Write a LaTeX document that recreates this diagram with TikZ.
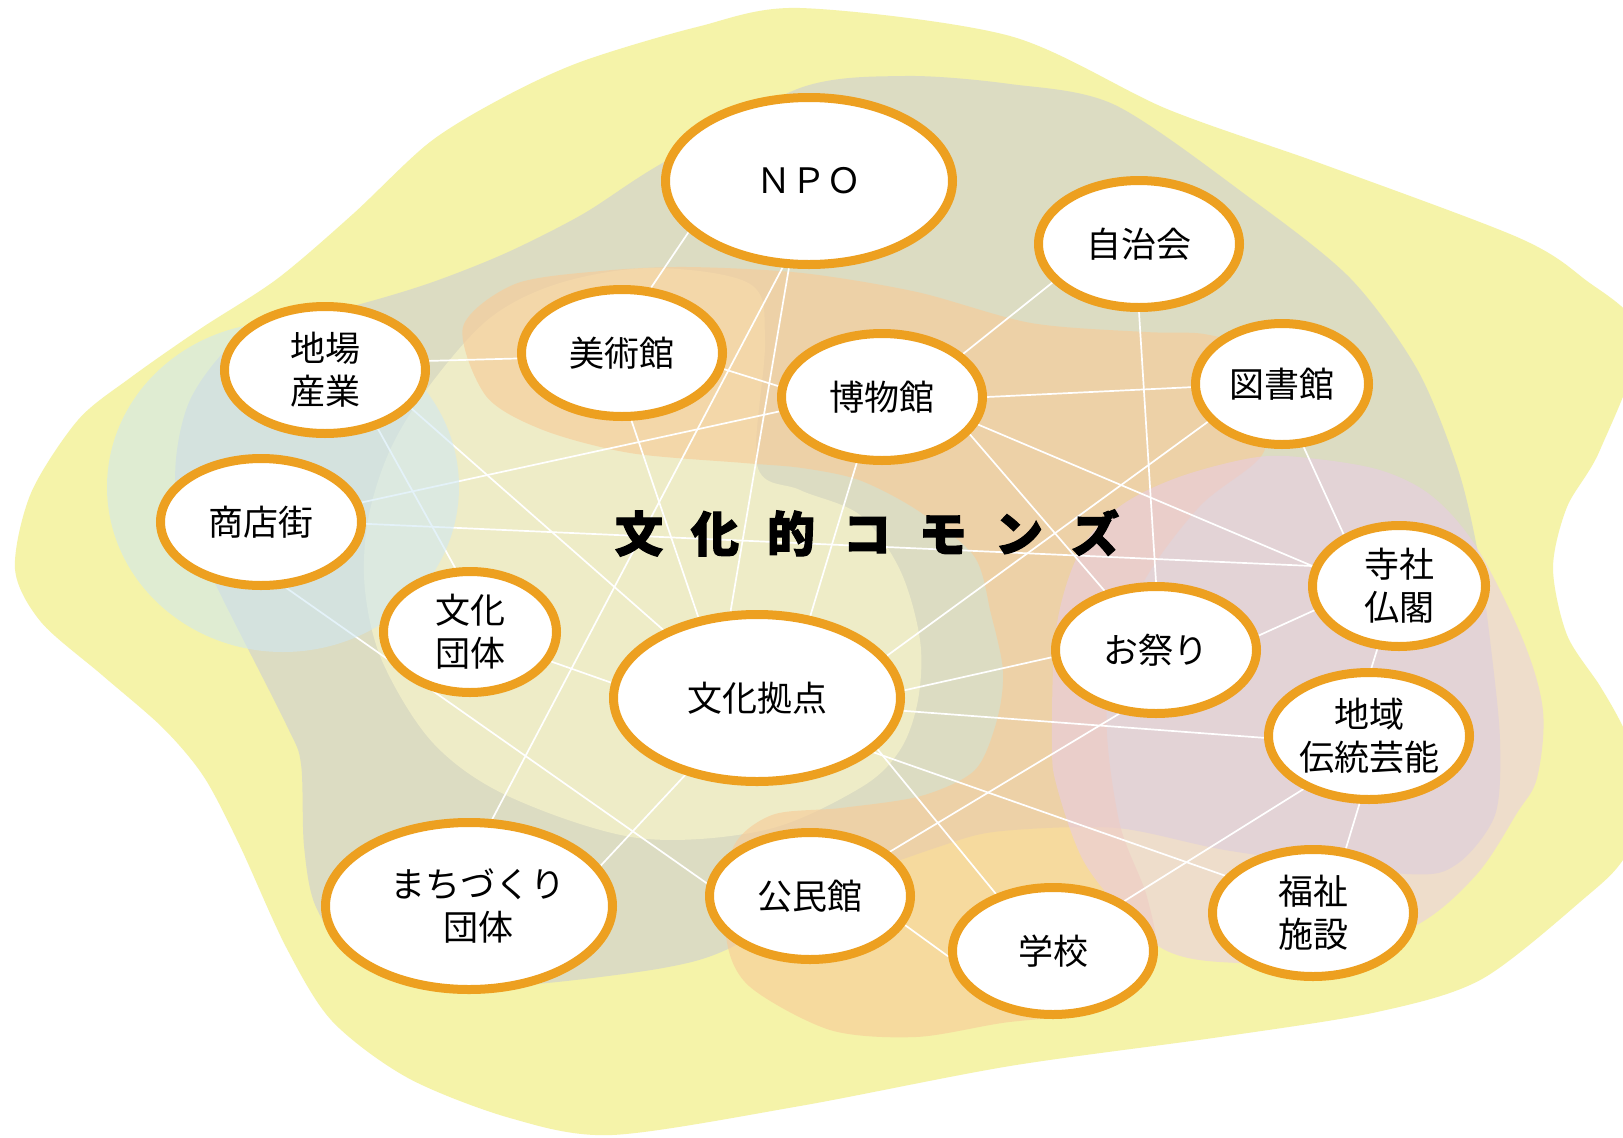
\documentclass[tikz,border=0pt]{standalone}
\usepackage{fontspec}
\newfontfamily\jpfont{Noto Sans CJK JP}
\newfontfamily\jptitle[FakeBold=2.5]{Noto Sans CJK JP}
\usetikzlibrary{shapes.geometric}
\pgfdeclarelayer{blobs}
\pgfdeclarelayer{links}
\pgfdeclarelayer{tint}
\pgfsetlayers{blobs,links,tint,main}
\definecolor{bgyellow}{RGB}{245,243,169}
\definecolor{blobgray}{RGB}{220,220,194}
\definecolor{blobpale}{RGB}{238,236,199}
\definecolor{blobcyan}{RGB}{206,232,245}
\definecolor{bloborange}{RGB}{247,204,153}
\definecolor{blobpink}{RGB}{233,204,230}
\definecolor{ringorange}{RGB}{237,160,32}
\tikzset{
  hub/.style={ellipse, draw=ringorange, line width=9pt, fill=white, inner sep=0pt,
    align=center, font=\jpfont\fontsize{35}{43}\selectfont},
  bighub/.style={hub, minimum width=287pt, minimum height=167pt},
  midhub/.style={hub, minimum width=201pt, minimum height=127pt},
  smlhub/.style={hub, minimum width=173pt, minimum height=121pt},
  link/.style={draw=white, line width=1.7pt},
  titletext/.style={font=\jptitle\bfseries\fontsize{48}{48}\selectfont, inner sep=0pt},
}
\begin{document}
\begin{tikzpicture}[x=1pt,y=-1pt]
\useasboundingbox (0,0) rectangle (1623,1138);

% ---------- nodes ----------
\node[bighub] (npo) at (809,181) {ＮＰＯ};
\node[midhub] (jichi) at (1139,244) {自治会};
\node[midhub] (bijutsu) at (622,353) {美術館};
\node[midhub] (jiba) at (325,370) {地場\\産業};
\node[midhub] (haku) at (882,397) {博物館};
\node[smlhub] (tosho) at (1282,384) {図書館};
\node[midhub] (shoten) at (261,522) {商店街};
\node[smlhub] (dantai) at (470,632) {文化\\団体};
\node[bighub] (kyoten) at (757,698) {文化拠点};
\node[midhub] (matsuri) at (1156,650) {お祭り};
\node[smlhub] (jisha) at (1399,586) {寺社\\仏閣};
\node[midhub] (dento) at (1369,736) {地域\\伝統芸能};
\node[bighub] (machi) at (469,906) {\hspace*{18pt}まちづくり\\\hspace*{18pt}団体};
\node[midhub] (kominkan) at (810,896) {公民館};
\node[midhub] (gakko) at (1053,951) {学校};
\node[midhub] (fukushi) at (1313,913) {福祉\\施設};

\node[titletext] (title) at (867,533)
  {文\hspace{28pt}化\hspace{28pt}的\hspace{28pt}コ\hspace{28pt}モ\hspace{28pt}ン\hspace{28pt}ズ};

% ---------- background blobs ----------
\begin{pgfonlayer}{blobs}
\begin{scope}
\clip (0,0) rectangle (1623,1138);
\fill[white] (0,0) rectangle (1623,1138);
\fill[bgyellow] plot[smooth cycle, tension=0.5] coordinates {
 (800,8) (1010,36) (1167,109) (1325,165) (1517,237) (1583,278) (1640,335)
 (1600,450) (1567,507) (1553,568) (1567,635) (1600,686) (1623,727) (1655,800)
 (1623,860) (1587,896) (1482,979) (1377,1012) (1220,1037) (1010,1066) (800,1106)
 (612,1135) (510,1118) (408,1078) (332,1021) (286,947) (240,846) (204,777)
 (163,728) (102,675) (41,622) (15,569) (31,493) (78,420) (130,378) (200,329)
 (277,279) (353,214) (430,142) (506,96) (583,61) (697,27)};
\fill[blobgray] plot[smooth cycle, tension=0.5] coordinates {
 (800,88) (905,76) (1010,84) (1115,105) (1250,198) (1350,278) (1417,369)
 (1457,466) (1477,548) (1490,640) (1500,740) (1495,815) (1457,864) (1407,874)
 (1231,851) (1117,828) (1002,831) (944,845) (830,888) (730,948) (663,968)
 (536,984) (459,984) (357,960) (316,907) (304,846) (301,764) (286,724)
 (214,581) (176,490) (190,400) (250,330) (353,306) (430,283) (506,253)
 (583,214) (659,165)};
\fill[blobpale] plot[smooth cycle, tension=0.55] coordinates {
 (490,318) (560,283) (653,268) (750,284) (765,340) (757,465) (800,490)
 (860,515) (900,570) (920,640) (918,700) (900,750) (860,788) (765,830)
 (638,838) (510,797) (434,744) (383,663) (365,590) (368,520) (390,450) (430,385)};
\fill[bloborange, opacity=0.64] plot[smooth cycle, tension=0.5] coordinates {
 (463,327) (515,284) (601,271) (687,267) (802,273) (917,292) (1031,323)
 (1146,332) (1204,334) (1250,350) (1268,400) (1262,455) (1199,507) (1139,591)
 (1107,706) (1119,821) (1147,897) (1155,960) (1110,1008) (1002,1023) (916,1037)
 (830,1030) (749,986) (726,936) (732,850) (772,815) (841,808) (921,796)
 (975,770) (997,720) (1003,671) (991,614) (974,556) (917,510) (859,480)
 (802,468) (744,463) (630,453) (543,430) (486,396)};
\fill[blobpink, opacity=0.56] plot[smooth cycle, tension=0.55] coordinates {
 (1052,744) (1057,787) (1083,860) (1125,914) (1165,950) (1220,962) (1320,960)
 (1417,925) (1477,874) (1517,813) (1537,778) (1543,711) (1523,640) (1477,548)
 (1433,497) (1383,471) (1317,459) (1258,457) (1179,477) (1119,507) (1079,553)
 (1056,630)};
\end{scope}
\end{pgfonlayer}

% ---------- connectors ----------
\begin{pgfonlayer}{links}
\draw[link] (npo.203) -- (bijutsu.66);
\draw[link] (npo.253) -- (machi.75);
\draw[link] (npo.257) -- (kyoten.107);
\draw[link] (jiba.5) -- (bijutsu.183);
\draw[link] (bijutsu.351) -- (haku.174);
\draw[link] (bijutsu.278) -- (kyoten.126);
\draw[link] (haku.188) -- (shoten.11);
\draw[link] (haku.249) -- (kyoten.57);
\draw[link] (haku.0) -- (tosho.182);
\draw[link] (haku.28) -- (jichi.204);
\draw[link] (haku.337) -- (matsuri.131);
\draw[link] (haku.344) -- (jisha.167);
\draw[link] (shoten.359) -- (jisha.167);
\draw[link] (tosho.207) -- (kyoten.18);
\draw[link] (jichi.270) -- (matsuri.90);
\draw[link] (tosho.289) -- (jisha.137);
\draw[link] (jiba.336) -- (kyoten.144);
\draw[link] (jiba.312) -- (dantai.103);
\draw[link] (shoten.291) -- (kominkan.173);
\draw[link] (dantai.340) -- (kyoten.174);
\draw[link] (kyoten.227) -- (machi.17);
\draw[link] (kyoten.3) -- (matsuri.184);
\draw[link] (kyoten.355) -- (dento.181);
\draw[link] (kyoten.335) -- (fukushi.157);
\draw[link] (kyoten.337) -- (gakko.135);
\draw[link] (matsuri.8) -- (jisha.196);
\draw[link] (matsuri.240) -- (kominkan.29);
\draw[link] (jisha.251) -- (dento.88);
\draw[link] (dento.262) -- (fukushi.63);
\draw[link] (dento.219) -- (gakko.35);
\draw[link] (kominkan.343) -- (gakko.183);
\end{pgfonlayer}

% ---------- translucent cyan disc over the links ----------
\begin{pgfonlayer}{tint}
\fill[blobcyan, opacity=0.55] (283,487) ellipse [x radius=176pt, y radius=165pt];
\end{pgfonlayer}
\end{tikzpicture}
\end{document}
